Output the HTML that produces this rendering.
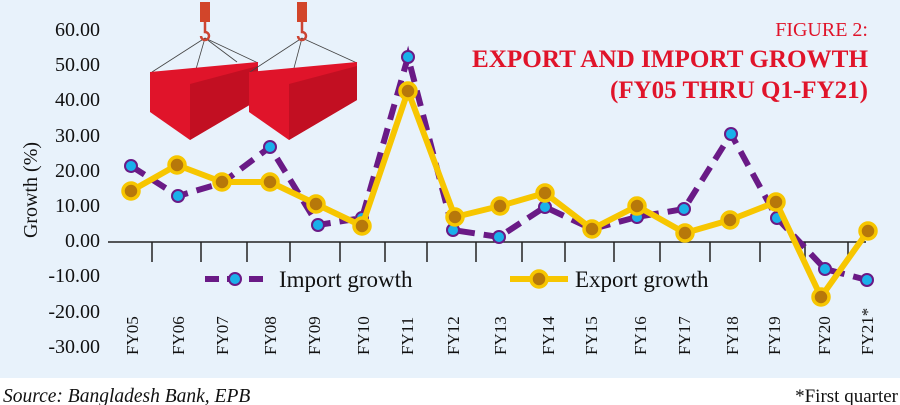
<!DOCTYPE html>
<html><head><style>
body{margin:0;background:#fff;}
svg{display:block;font-family:"Liberation Serif",serif;}
</style></head><body>
<svg width="900" height="405" xmlns="http://www.w3.org/2000/svg">
<rect x="0" y="0" width="900" height="378" fill="#e8f2fb"/>
<!-- containers -->
<g>
<line x1="205" y1="38" x2="152" y2="72" stroke="#444" stroke-width="0.8"/>
<line x1="205" y1="38" x2="258" y2="63" stroke="#444" stroke-width="0.8"/>
<line x1="205" y1="38" x2="192" y2="83" stroke="#444" stroke-width="0.8"/>
<line x1="205" y1="38" x2="237" y2="62" stroke="#444" stroke-width="0.8"/>
<polygon points="150,72 258,62 258,100 190,140 150,112" fill="#e0142a"/>
<polygon points="190,84 258,66 258,100 190,140" fill="#c20f22"/>
<rect x="200" y="2" width="10" height="20" fill="#d2452a"/>
<path d="M205 22 v10 a4 4 0 1 1 -4 4" stroke="#c43" stroke-width="2.5" fill="none"/>
<line x1="302" y1="38" x2="250" y2="72" stroke="#444" stroke-width="0.8"/>
<line x1="302" y1="38" x2="357" y2="63" stroke="#444" stroke-width="0.8"/>
<line x1="302" y1="38" x2="290" y2="83" stroke="#444" stroke-width="0.8"/>
<polygon points="249,72 357,62 357,100 289,140 249,112" fill="#e0142a"/>
<polygon points="289,84 357,66 357,100 289,140" fill="#c20f22"/>
<rect x="297" y="2" width="10" height="20" fill="#d2452a"/>
<path d="M302 22 v10 a4 4 0 1 1 -4 4" stroke="#c43" stroke-width="2.5" fill="none"/>
</g>
<!-- y labels -->
<g font-size="20" text-anchor="end" fill="#111">
<text x="100" y="36">60.00</text><text x="100" y="71">50.00</text><text x="100" y="106">40.00</text>
<text x="100" y="142">30.00</text><text x="100" y="177">20.00</text><text x="100" y="212">10.00</text>
<text x="100" y="247">0.00</text><text x="100" y="282">-10.00</text><text x="100" y="318">-20.00</text>
<text x="100" y="353">-30.00</text>
</g>
<text transform="translate(37,190) rotate(-90)" font-size="20" text-anchor="middle" fill="#111">Growth (%)</text>
<!-- axis -->
<line x1="108" y1="242" x2="866" y2="242" stroke="#222" stroke-width="1.5"/>
<g stroke="#222" stroke-width="1.5">
<line x1="152" y1="242" x2="152" y2="262"/><line x1="201" y1="242" x2="201" y2="262"/>
<line x1="247" y1="242" x2="247" y2="262"/><line x1="290" y1="242" x2="290" y2="262"/>
<line x1="340" y1="242" x2="340" y2="262"/><line x1="385" y1="242" x2="385" y2="262"/>
<line x1="427" y1="242" x2="427" y2="262"/><line x1="476" y1="242" x2="476" y2="262"/>
<line x1="522" y1="242" x2="522" y2="262"/><line x1="565" y1="242" x2="565" y2="262"/>
<line x1="614" y1="242" x2="614" y2="262"/><line x1="660" y1="242" x2="660" y2="262"/>
<line x1="710" y1="242" x2="710" y2="262"/><line x1="760" y1="242" x2="760" y2="262"/>
<line x1="805" y1="242" x2="805" y2="262"/><line x1="848" y1="242" x2="848" y2="262"/>
</g>
<!-- x labels -->
<g font-size="17" fill="#111">
<text transform="translate(138,355) rotate(-90)">FY05</text>
<text transform="translate(184,355) rotate(-90)">FY06</text>
<text transform="translate(228,355) rotate(-90)">FY07</text>
<text transform="translate(276,355) rotate(-90)">FY08</text>
<text transform="translate(320,355) rotate(-90)">FY09</text>
<text transform="translate(369,355) rotate(-90)">FY10</text>
<text transform="translate(413,355) rotate(-90)">FY11</text>
<text transform="translate(459,355) rotate(-90)">FY12</text>
<text transform="translate(506,355) rotate(-90)">FY13</text>
<text transform="translate(554,355) rotate(-90)">FY14</text>
<text transform="translate(597,355) rotate(-90)">FY15</text>
<text transform="translate(646,355) rotate(-90)">FY16</text>
<text transform="translate(690,355) rotate(-90)">FY17</text>
<text transform="translate(738,355) rotate(-90)">FY18</text>
<text transform="translate(780,355) rotate(-90)">FY19</text>
<text transform="translate(830,355) rotate(-90)">FY20</text>
<text transform="translate(873,355) rotate(-90)">FY21*</text>
</g>
<!-- import -->
<polyline fill="none" stroke="#6a1a86" stroke-width="6" stroke-dasharray="16,9" points="131,166 178,196 222,183 270,147 318,225 362,218 408,57 453,230 499,237 545,207 592,229 637,217 684,209 731,134 777,218 825,269 867,280"/>
<g fill="#1ab0ea" stroke="#6a1a86" stroke-width="2">
<circle cx="131" cy="166" r="6"/><circle cx="178" cy="196" r="6"/><circle cx="222" cy="183" r="6"/><circle cx="270" cy="147" r="6"/><circle cx="318" cy="225" r="6"/><circle cx="362" cy="218" r="6"/><circle cx="408" cy="57" r="6"/><circle cx="453" cy="230" r="6"/><circle cx="499" cy="237" r="6"/><circle cx="545" cy="207" r="6"/><circle cx="592" cy="229" r="6"/><circle cx="637" cy="217" r="6"/><circle cx="684" cy="209" r="6"/><circle cx="731" cy="134" r="6"/><circle cx="777" cy="218" r="6"/><circle cx="825" cy="269" r="6"/><circle cx="867" cy="280" r="6"/>
</g>
<!-- export -->
<polyline fill="none" stroke="#f7c600" stroke-width="6" stroke-linejoin="round" points="131,191 177,165 222,182 270,182 316,204 362,226 408,91 455,217 500,206 545,193 592,229 637,206 685,233 730,220 776,202 821,297 868,231"/>
<g fill="#b7780a" stroke="#f7c600" stroke-width="3.5">
<circle cx="131" cy="191" r="8"/><circle cx="177" cy="165" r="8"/><circle cx="222" cy="182" r="8"/><circle cx="270" cy="182" r="8"/><circle cx="316" cy="204" r="8"/><circle cx="362" cy="226" r="8"/><circle cx="408" cy="91" r="8"/><circle cx="455" cy="217" r="8"/><circle cx="500" cy="206" r="8"/><circle cx="545" cy="193" r="8"/><circle cx="592" cy="229" r="8"/><circle cx="637" cy="206" r="8"/><circle cx="685" cy="233" r="8"/><circle cx="730" cy="220" r="8"/><circle cx="776" cy="202" r="8"/><circle cx="821" cy="297" r="8"/><circle cx="868" cy="231" r="8"/>
</g>
<!-- legend -->
<line x1="205" y1="279" x2="265" y2="279" stroke="#6a1a86" stroke-width="6" stroke-dasharray="14,8"/>
<circle cx="235" cy="279" r="6" fill="#1ab0ea" stroke="#6a1a86" stroke-width="2"/>
<text x="279" y="287" font-size="23" fill="#111">Import growth</text>
<line x1="510" y1="279" x2="568" y2="279" stroke="#f7c600" stroke-width="6"/>
<circle cx="539" cy="279" r="8" fill="#b7780a" stroke="#f7c600" stroke-width="3.5"/>
<text x="575" y="287" font-size="23" fill="#111">Export growth</text>
<!-- title -->
<g fill="#e0142a" text-anchor="end">
<text x="868" y="36" font-size="20">FIGURE 2:</text>
<text x="868" y="67" font-size="25" font-weight="bold" textLength="396" lengthAdjust="spacingAndGlyphs">EXPORT AND IMPORT GROWTH</text>
<text x="868" y="98" font-size="25" font-weight="bold" textLength="258" lengthAdjust="spacingAndGlyphs">(FY05 THRU Q1-FY21)</text>
</g>
<text x="3" y="402" font-size="19.5" font-style="italic" fill="#111">Source: Bangladesh Bank, EPB</text>
<text x="898" y="402" font-size="19" text-anchor="end" fill="#111">*First quarter</text>
</svg>
</body></html>
